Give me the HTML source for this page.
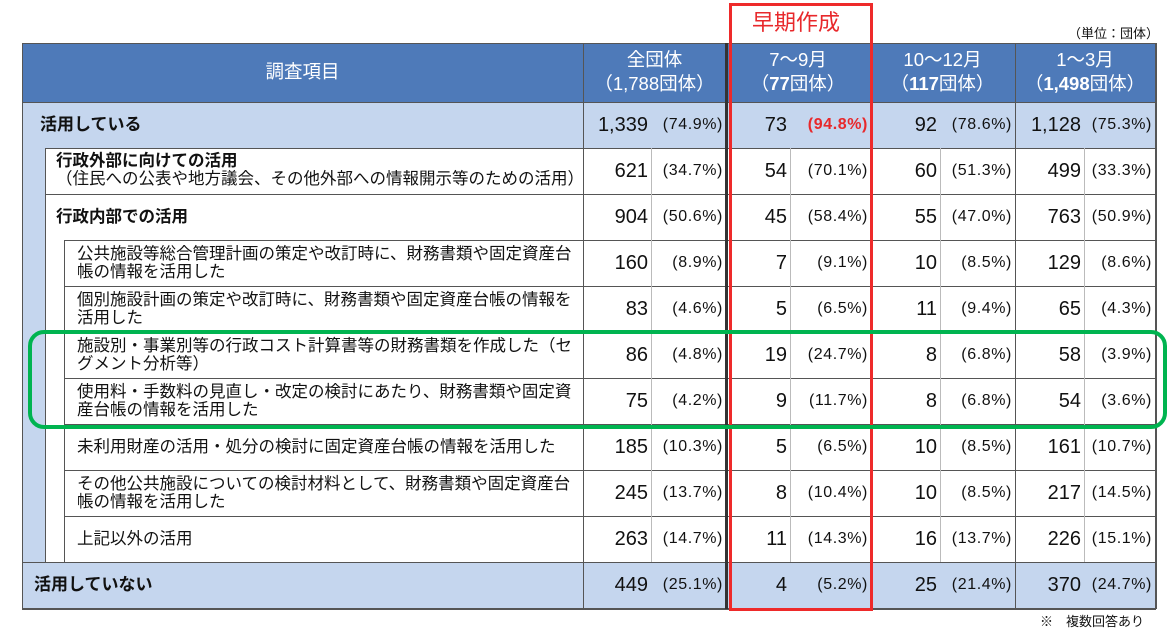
<!DOCTYPE html>
<html><head><meta charset="utf-8"><style>
body{margin:0;width:1170px;height:636px;background:#fff;position:relative;overflow:hidden;font-family:"Liberation Sans","Noto Sans CJK JP",sans-serif;color:#111}
div,span{position:absolute;box-sizing:border-box}
.hl{height:1px;background:#555}
.vl{width:1px;background:#555}
.lg{width:1px;background:#bbb}
.r{left:0;width:1170px}
.r span{white-space:nowrap}
.n{font-size:20px}
.p{font-size:16px;letter-spacing:0.6px}
.a1{right:522px}.b1{right:447px}
.a2{right:383px}.b2{right:302px}
.a3{right:233px}.b3{right:158px}
.a4{right:89px}.b4{right:18px}
.t{font-size:16.5px;line-height:18px}
.hd{color:#fff;font-size:18.5px;text-align:center;line-height:24px}
</style></head><body>
<div style="left:22px;top:43px;width:1133px;height:59px;background:#4e7ab9"></div>
<div style="left:22px;top:102px;width:1133px;height:46px;background:#c5d6ee"></div>
<div style="left:22px;top:148px;width:23px;height:414px;background:#c5d6ee"></div>
<div style="left:22px;top:562px;width:1133px;height:46px;background:#c5d6ee"></div>

<div class="hd" style="left:22px;top:60px;width:561px">調査項目</div>
<div class="hd" style="left:583px;top:48px;width:143px">全団体<br>（1,788団体）</div>
<div class="hd" style="left:726px;top:48px;width:144px">7～9月<br>（<b>77</b>団体）</div>
<div class="hd" style="left:870px;top:48px;width:145px">10～12月<br>（<b>117</b>団体）</div>
<div class="hd" style="left:1015px;top:48px;width:140px">1～3月<br>（<b>1,498</b>団体）</div>
<div style="left:1068px;top:23px;font-size:13px">（単位：団体）</div>
<div style="left:1040px;top:611px;font-size:13px">※　複数回答あり</div>
<div style="left:752px;top:5px;font-size:22px;color:#e8282b">早期作成</div>

<div class="hl" style="left:22px;top:43px;width:1133px"></div>
<div class="hl" style="left:22px;top:102px;width:1133px"></div>
<div class="hl" style="left:45px;top:148px;width:1110px"></div>
<div class="hl" style="left:45px;top:194px;width:1110px"></div>
<div class="hl" style="left:64px;top:240px;width:1091px"></div>
<div class="hl" style="left:64px;top:286px;width:1091px"></div>
<div class="hl" style="left:64px;top:332px;width:1091px"></div>
<div class="hl" style="left:64px;top:378px;width:1091px"></div>
<div class="hl" style="left:64px;top:424px;width:1091px"></div>
<div class="hl" style="left:64px;top:470px;width:1091px"></div>
<div class="hl" style="left:64px;top:516px;width:1091px"></div>
<div class="hl" style="left:22px;top:562px;width:1133px"></div>
<div class="hl" style="left:22px;top:608px;width:1134px;height:2px"></div>
<div class="vl" style="left:22px;top:43px;height:566px"></div>
<div class="vl" style="left:45px;top:148px;height:414px"></div>
<div class="vl" style="left:64px;top:240px;height:322px"></div>
<div class="vl" style="left:583px;top:43px;height:566px"></div>
<div class="vl" style="left:725px;top:43px;height:566px;width:3px;background:#333"></div>
<div class="vl" style="left:870px;top:43px;height:566px"></div>
<div class="vl" style="left:1015px;top:43px;height:566px"></div>
<div class="vl" style="left:1155px;top:43px;height:566px;width:2px"></div>
<div class="lg" style="left:651px;top:148px;height:414px"></div>
<div class="lg" style="left:790px;top:148px;height:414px"></div>
<div class="lg" style="left:940px;top:148px;height:414px"></div>
<div class="lg" style="left:1084px;top:148px;height:414px"></div>

<div class="r" style="top:102px;height:46px;line-height:46px">
<span style="left:40px;font-size:17px;font-weight:bold">活用している</span>
<span class="n a1">1,339</span><span class="p b1">(74.9%)</span>
<span class="n a2">73</span><span class="p b2" style="color:#e8282b;font-weight:bold">(94.8%)</span>
<span class="n a3">92</span><span class="p b3">(78.6%)</span>
<span class="n a4">1,128</span><span class="p b4">(75.3%)</span></div>

<div class="r" style="top:148px;height:46px;line-height:46px">
<span class="t" style="left:56px;top:4px"><b>行政外部に向けての活用</b><br>（住民への公表や地方議会、その他外部への情報開示等のための活用）</span>
<span class="n a1">621</span><span class="p b1">(34.7%)</span>
<span class="n a2">54</span><span class="p b2">(70.1%)</span>
<span class="n a3">60</span><span class="p b3">(51.3%)</span>
<span class="n a4">499</span><span class="p b4">(33.3%)</span></div>

<div class="r" style="top:194px;height:46px;line-height:46px">
<span style="left:56px;font-size:16.5px;font-weight:bold">行政内部での活用</span>
<span class="n a1">904</span><span class="p b1">(50.6%)</span>
<span class="n a2">45</span><span class="p b2">(58.4%)</span>
<span class="n a3">55</span><span class="p b3">(47.0%)</span>
<span class="n a4">763</span><span class="p b4">(50.9%)</span></div>

<div class="r" style="top:240px;height:46px;line-height:46px">
<span class="t" style="left:77px;top:5px">公共施設等総合管理計画の策定や改訂時に、財務書類や固定資産台<br>帳の情報を活用した</span>
<span class="n a1">160</span><span class="p b1">(8.9%)</span>
<span class="n a2">7</span><span class="p b2">(9.1%)</span>
<span class="n a3">10</span><span class="p b3">(8.5%)</span>
<span class="n a4">129</span><span class="p b4">(8.6%)</span></div>

<div class="r" style="top:286px;height:46px;line-height:46px">
<span class="t" style="left:77px;top:5px">個別施設計画の策定や改訂時に、財務書類や固定資産台帳の情報を<br>活用した</span>
<span class="n a1">83</span><span class="p b1">(4.6%)</span>
<span class="n a2">5</span><span class="p b2">(6.5%)</span>
<span class="n a3">11</span><span class="p b3">(9.4%)</span>
<span class="n a4">65</span><span class="p b4">(4.3%)</span></div>

<div class="r" style="top:332px;height:46px;line-height:46px">
<span class="t" style="left:77px;top:5px">施設別・事業別等の行政コスト計算書等の財務書類を作成した（セ<br>グメント分析等）</span>
<span class="n a1">86</span><span class="p b1">(4.8%)</span>
<span class="n a2">19</span><span class="p b2">(24.7%)</span>
<span class="n a3">8</span><span class="p b3">(6.8%)</span>
<span class="n a4">58</span><span class="p b4">(3.9%)</span></div>

<div class="r" style="top:378px;height:46px;line-height:46px">
<span class="t" style="left:77px;top:5px">使用料・手数料の見直し・改定の検討にあたり、財務書類や固定資<br>産台帳の情報を活用した</span>
<span class="n a1">75</span><span class="p b1">(4.2%)</span>
<span class="n a2">9</span><span class="p b2">(11.7%)</span>
<span class="n a3">8</span><span class="p b3">(6.8%)</span>
<span class="n a4">54</span><span class="p b4">(3.6%)</span></div>

<div class="r" style="top:424px;height:46px;line-height:46px">
<span style="left:77px;font-size:16.5px">未利用財産の活用・処分の検討に固定資産台帳の情報を活用した</span>
<span class="n a1">185</span><span class="p b1">(10.3%)</span>
<span class="n a2">5</span><span class="p b2">(6.5%)</span>
<span class="n a3">10</span><span class="p b3">(8.5%)</span>
<span class="n a4">161</span><span class="p b4">(10.7%)</span></div>

<div class="r" style="top:470px;height:46px;line-height:46px">
<span class="t" style="left:77px;top:5px">その他公共施設についての検討材料として、財務書類や固定資産台<br>帳の情報を活用した</span>
<span class="n a1">245</span><span class="p b1">(13.7%)</span>
<span class="n a2">8</span><span class="p b2">(10.4%)</span>
<span class="n a3">10</span><span class="p b3">(8.5%)</span>
<span class="n a4">217</span><span class="p b4">(14.5%)</span></div>

<div class="r" style="top:516px;height:46px;line-height:46px">
<span style="left:77px;font-size:16.5px">上記以外の活用</span>
<span class="n a1">263</span><span class="p b1">(14.7%)</span>
<span class="n a2">11</span><span class="p b2">(14.3%)</span>
<span class="n a3">16</span><span class="p b3">(13.7%)</span>
<span class="n a4">226</span><span class="p b4">(15.1%)</span></div>

<div class="r" style="top:562px;height:46px;line-height:46px">
<span style="left:34px;font-size:17px;font-weight:bold">活用していない</span>
<span class="n a1">449</span><span class="p b1">(25.1%)</span>
<span class="n a2">4</span><span class="p b2">(5.2%)</span>
<span class="n a3">25</span><span class="p b3">(21.4%)</span>
<span class="n a4">370</span><span class="p b4">(24.7%)</span></div>

<div style="left:729px;top:3px;width:144px;height:608px;border:3px solid #ee2a2a"></div>
<div style="left:28px;top:330px;width:1139px;height:99px;border:4px solid #00b450;border-radius:16px"></div>
</body></html>
